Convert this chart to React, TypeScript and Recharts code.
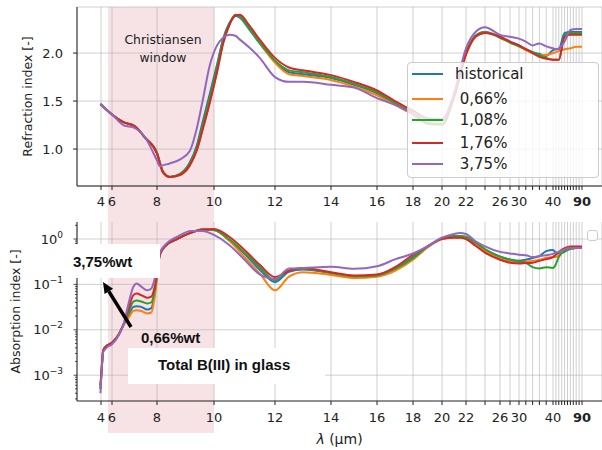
import React from "react";
import { LineChart, Line, XAxis, YAxis, CartesianGrid } from "recharts";

// wavelength (µm) -> position along the plot width
const AXIS_LAMBDA = [4, 6, 8, 10, 12, 14, 16, 18, 20, 22, 24, 26, 28, 30, 40, 90];
const AXIS_POS = [24, 35, 80, 137, 198, 254, 300, 336, 365, 389, 408, 423, 433, 442, 476, 505];
const U_MAX = 525;

const LABELED_TICKS = [4, 6, 8, 10, 12, 14, 16, 18, 20, 22, 26, 30, 40, 90];
const TICK_LAMBDA = [4, 6, 8, 10, 12, 14, 16, 18, 20, 22, 24, 26, 28, 30, 32, 34, 36, 38, 40,
  45, 50, 55, 60, 65, 70, 75, 80, 85, 90];

// refraction index
const LAMBDA_N = [3.9, 5, 6, 6.5, 7, 7.5, 8, 8.1, 8.2, 8.45, 8.8, 9.15, 9.4, 9.6, 9.85, 10.1, 10.3, 10.5, 10.7, 10.85,
  11.15, 11.5, 12, 12.5, 13, 14, 15, 16, 17, 18, 19, 20, 21, 22, 23, 24, 26, 28, 30, 32, 34, 36, 38, 40, 45, 50, 60, 70, 80, 90];
const N_HIST = [1.47, 1.41, 1.36, 1.28, 1.24, 1.11, 0.96, 0.86, 0.77, 0.71, 0.74, 0.86, 1.04, 1.28, 1.57, 1.88, 2.15, 2.31, 2.39, 2.37,
  2.25, 2.10, 1.91, 1.80, 1.78, 1.74, 1.67, 1.58, 1.47, 1.37, 1.27, 1.26, 1.55, 2.00, 2.18, 2.22, 2.17, 2.12, 2.08, 2.04, 2.01, 1.99, 1.97, 2.03, 2.04, 2.04, 2.21, 2.22, 2.22, 2.22];
const N_066 = [1.47, 1.41, 1.36, 1.28, 1.24, 1.11, 0.96, 0.86, 0.77, 0.71, 0.73, 0.83, 0.99, 1.21, 1.49, 1.81, 2.11, 2.29, 2.40, 2.39,
  2.27, 2.11, 1.90, 1.78, 1.76, 1.72, 1.65, 1.56, 1.46, 1.36, 1.26, 1.25, 1.53, 1.98, 2.17, 2.22, 2.16, 2.11, 2.07, 2.03, 2.00, 1.98, 1.98, 2.00, 2.01, 2.02, 2.04, 2.05, 2.065, 2.065];
const N_108 = [1.47, 1.41, 1.36, 1.28, 1.24, 1.11, 0.96, 0.86, 0.77, 0.71, 0.74, 0.85, 1.02, 1.25, 1.53, 1.85, 2.14, 2.30, 2.40, 2.38,
  2.26, 2.11, 1.92, 1.82, 1.80, 1.75, 1.68, 1.59, 1.48, 1.37, 1.27, 1.26, 1.55, 2.00, 2.18, 2.22, 2.16, 2.11, 2.07, 2.04, 2.01, 1.98, 1.95, 1.93, 1.93, 1.93, 2.19, 2.21, 2.21, 2.21];
const N_176 = [1.47, 1.41, 1.36, 1.28, 1.24, 1.11, 0.95, 0.85, 0.76, 0.71, 0.73, 0.83, 0.99, 1.20, 1.48, 1.80, 2.10, 2.29, 2.39, 2.40,
  2.29, 2.14, 1.95, 1.85, 1.82, 1.77, 1.70, 1.61, 1.50, 1.40, 1.32, 1.30, 1.55, 1.99, 2.17, 2.21, 2.17, 2.12, 2.08, 2.04, 2.00, 1.96, 1.94, 1.93, 1.93, 1.93, 2.17, 2.19, 2.19, 2.19];
const N_375 = [1.47, 1.41, 1.36, 1.25, 1.22, 1.11, 0.88, 0.82, 0.83, 0.85, 0.89, 0.98, 1.22, 1.50, 1.87, 2.08, 2.16, 2.19, 2.18, 2.14,
  2.06, 1.95, 1.75, 1.70, 1.70, 1.67, 1.64, 1.53, 1.46, 1.37, 1.32, 1.31, 1.58, 2.05, 2.22, 2.27, 2.19, 2.17, 2.15, 2.12, 2.08, 2.10, 2.07, 2.05, 2.04, 2.05, 2.12, 2.24, 2.25, 2.25];

// absorption index
const LAMBDA_K = [3.9, 4.1, 4.4, 5, 6, 6.3, 6.5, 6.7, 6.95, 7.1, 7.3, 7.56, 7.75, 7.9, 8.1, 8.3, 8.7, 9.2, 9.6, 10,
  10.5, 11, 11.5, 12, 12.5, 13, 14, 15, 16, 17, 18, 19, 20, 21, 21.5, 22, 23, 24, 26, 28, 30, 32, 34, 36, 38, 40, 45, 50, 60, 70, 80, 90];
const K_HIST = [5.0e-4, 1.26e-3, 3.5e-3, 4.4e-3, 5.2e-3, 7.9e-3, 0.0126, 0.0186, 0.032, 0.033, 0.032, 0.028, 0.030, 0.063, 0.45, 0.71, 1.0, 1.38, 1.62, 1.58,
  0.95, 0.47, 0.21, 0.112, 0.19, 0.214, 0.178, 0.151, 0.162, 0.224, 0.40, 0.68, 1.02, 1.15, 1.15, 1.10, 0.81, 0.575, 0.41, 0.355, 0.33, 0.35, 0.38, 0.42, 0.54, 0.575, 0.50, 0.48, 0.52, 0.62, 0.65, 0.65];
const K_066 = [6.0e-4, 1.26e-3, 3.5e-3, 4.4e-3, 5.2e-3, 7.9e-3, 0.0126, 0.017, 0.026, 0.027, 0.026, 0.023, 0.024, 0.054, 0.45, 0.71, 1.0, 1.38, 1.62, 1.58,
  0.91, 0.40, 0.174, 0.074, 0.148, 0.186, 0.162, 0.138, 0.148, 0.20, 0.35, 0.65, 1.0, 1.10, 1.10, 1.05, 0.76, 0.54, 0.37, 0.32, 0.30, 0.32, 0.33, 0.35, 0.38, 0.40, 0.40, 0.44, 0.55, 0.63, 0.65, 0.65];
const K_108 = [5.0e-4, 1.26e-3, 3.5e-3, 4.4e-3, 5.2e-3, 7.9e-3, 0.0126, 0.021, 0.042, 0.044, 0.042, 0.038, 0.040, 0.074, 0.45, 0.71, 1.0, 1.38, 1.62, 1.58,
  0.98, 0.50, 0.24, 0.123, 0.20, 0.22, 0.178, 0.151, 0.158, 0.22, 0.38, 0.68, 1.05, 1.17, 1.17, 1.12, 0.83, 0.60, 0.41, 0.35, 0.32, 0.30, 0.24, 0.224, 0.24, 0.23, 0.28, 0.40, 0.54, 0.60, 0.63, 0.65];
const K_176 = [6.0e-4, 1.26e-3, 3.5e-3, 4.4e-3, 5.2e-3, 7.9e-3, 0.0126, 0.025, 0.058, 0.063, 0.058, 0.051, 0.054, 0.089, 0.45, 0.71, 1.0, 1.38, 1.62, 1.66,
  1.12, 0.575, 0.27, 0.145, 0.20, 0.23, 0.186, 0.158, 0.166, 0.24, 0.45, 0.69, 1.0, 1.07, 1.07, 1.0, 0.71, 0.50, 0.35, 0.30, 0.29, 0.295, 0.30, 0.33, 0.36, 0.40, 0.45, 0.52, 0.63, 0.68, 0.68, 0.68];
const K_375 = [4.0e-4, 1.12e-3, 3.2e-3, 4.0e-3, 4.8e-3, 7.6e-3, 0.0126, 0.032, 0.089, 0.105, 0.089, 0.074, 0.081, 0.135, 0.50, 0.76, 1.12, 1.51, 1.51, 1.23,
  0.74, 0.35, 0.166, 0.132, 0.224, 0.23, 0.245, 0.22, 0.25, 0.355, 0.48, 0.68, 1.07, 1.29, 1.35, 1.29, 0.89, 0.69, 0.52, 0.48, 0.45, 0.44, 0.40, 0.42, 0.44, 0.47, 0.50, 0.52, 0.59, 0.63, 0.63, 0.63];

const K_MAJOR = [1e-3, 1e-2, 1e-1, 1];
const K_MINOR = [3e-4, 4e-4, 5e-4, 6e-4, 7e-4, 8e-4, 9e-4, 2e-3, 3e-3, 4e-3, 5e-3, 6e-3, 7e-3, 8e-3, 9e-3,
  2e-2, 3e-2, 4e-2, 5e-2, 6e-2, 7e-2, 8e-2, 9e-2, 0.2, 0.3, 0.4, 0.5, 0.6, 0.7, 0.8, 0.9, 2];

const SERIES = [
  { key: "hist", label: "historical", color: "#1f77b4", n: N_HIST, k: K_HIST },
  { key: "p066", label: " 0,66%", color: "#ff7f0e", n: N_066, k: K_066 },
  { key: "p108", label: " 1,08%", color: "#2ca02c", n: N_108, k: K_108 },
  { key: "p176", label: " 1,76%", color: "#d62728", n: N_176, k: K_176 },
  { key: "p375", label: " 3,75%", color: "#9467bd", n: N_375, k: K_375 },
];

const warp = (l: number) => {
  if (l <= AXIS_LAMBDA[0]) {
    const s = (AXIS_POS[1] - AXIS_POS[0]) / (AXIS_LAMBDA[1] - AXIS_LAMBDA[0]);
    return AXIS_POS[0] - (AXIS_LAMBDA[0] - l) * s;
  }
  for (let i = 1; i < AXIS_LAMBDA.length; i++) {
    if (l <= AXIS_LAMBDA[i]) {
      const t = (l - AXIS_LAMBDA[i - 1]) / (AXIS_LAMBDA[i] - AXIS_LAMBDA[i - 1]);
      return AXIS_POS[i - 1] + t * (AXIS_POS[i] - AXIS_POS[i - 1]);
    }
  }
  return AXIS_POS[AXIS_POS.length - 1];
};

const TICK_U = TICK_LAMBDA.map(warp);

const nData = LAMBDA_N.map((l, i) => {
  const row: any = { u: warp(l) };
  SERIES.forEach((s) => (row[s.key] = s.n[i]));
  return row;
});
const kData = LAMBDA_K.map((l, i) => {
  const row: any = { u: warp(l) };
  SERIES.forEach((s) => (row[s.key] = s.k[i]));
  return row;
});

const FONT = "DejaVu Sans, sans-serif";
const INK = "#222";
const PLOT_LEFT = 77;

const XTick = ({ x, y, payload }: any) => {
  const lam = TICK_LAMBDA.find((t) => Math.abs(warp(t) - payload.value) < 1e-6);
  if (lam === undefined || !LABELED_TICKS.includes(lam)) return null;
  return (
    <text x={x} y={y} dy="0.71em" textAnchor="middle" fontSize={13} fill={INK}
      fontFamily={FONT} fontWeight={lam === 90 ? "bold" : "normal"}>
      {lam}
    </text>
  );
};

const NTick = ({ x, y, payload }: any) => (
  <text x={x} y={y} dy="0.36em" textAnchor="end" fontSize={13} fill={INK} fontFamily={FONT}>
    {Number(payload.value).toFixed(1)}
  </text>
);

const KTick = ({ x, y, payload }: any) => {
  const v = payload.value;
  const major = K_MAJOR.some((m) => Math.abs(m - v) / m < 1e-6);
  if (!major) return <line x1={x - 2} x2={x} y1={y} y2={y} stroke={INK} strokeWidth={0.8} />;
  const exp = Math.round(Math.log10(v));
  return (
    <g>
      <line x1={x - 3.5} x2={x} y1={y} y2={y} stroke={INK} strokeWidth={0.8} />
      <text x={x - 14} y={y} dy="0.36em" textAnchor="end" fontSize={13} fill={INK} fontFamily={FONT}>
        10
        <tspan fontSize={9} dy={-6}>{exp < 0 ? `\u2212${-exp}` : `${exp}`}</tspan>
      </text>
    </g>
  );
};

const YLabel = ({ viewBox, value, dx }: any) => {
  const cx = viewBox.x + dx;
  const cy = viewBox.y + viewBox.height / 2;
  return (
    <text x={cx} y={cy} transform={`rotate(-90 ${cx} ${cy})`} textAnchor="middle" dy="0.36em"
      fontSize={12.5} fill={INK} fontFamily={FONT}>
      {value}
    </text>
  );
};

const LambdaLabel = ({ viewBox }: any) => (
  <text x={viewBox.x + viewBox.width / 2} y={viewBox.y + 43} textAnchor="middle" fontSize={14}
    fill={INK} fontFamily={FONT}>
    <tspan fontStyle="italic">λ</tspan> (µm)
  </text>
);

const Arrow = ({ x1, y1, x2, y2 }: { x1: number; y1: number; x2: number; y2: number }) => {
  const dx = x2 - x1, dy = y2 - y1;
  const len = Math.hypot(dx, dy);
  const ux = dx / len, uy = dy / len;
  const hl = 11, hw = 5;
  const bx = x2 - ux * hl, by = y2 - uy * hl;
  return (
    <g>
      <line x1={x1} y1={y1} x2={bx} y2={by} stroke="#000" strokeWidth={3.5} />
      <polygon points={`${x2},${y2} ${bx - uy * hw},${by + ux * hw} ${bx + uy * hw},${by - ux * hw}`} fill="#000" />
    </g>
  );
};

const axisStroke = { stroke: INK, strokeWidth: 1 };
const gridStroke = "#b0b0b0";

export default function App() {
  const bandLeft = PLOT_LEFT + warp(5.3);
  const bandRight = PLOT_LEFT + warp(10);
  const boldText: React.CSSProperties = {
    position: "absolute", fontFamily: "Liberation Sans, Arial, sans-serif", fontWeight: "bold",
    fontSize: 15, color: "#111", whiteSpace: "pre", lineHeight: "18px",
  };

  return (
    <div style={{ position: "absolute", left: 0, top: 0, width: 602, height: 450, background: "#fff", overflow: "hidden" }}>
      {/* Christiansen window band */}
      <div style={{ position: "absolute", left: bandLeft, width: bandRight - bandLeft, top: 7, height: 426, background: "#f7e2e5", zIndex: 0 }} />

      <div style={{ position: "absolute", left: 0, top: 0, zIndex: 1 }}>
        <LineChart width={602} height={215} data={nData} margin={{ top: 7, right: 0, bottom: 0, left: 0 }}>
          <CartesianGrid stroke={gridStroke} strokeOpacity={0.6} />
          <XAxis type="number" dataKey="u" domain={[0, U_MAX]} ticks={TICK_U} interval={0} allowDataOverflow
            tick={<XTick />} tickSize={4} tickMargin={7} tickLine={axisStroke} axisLine={axisStroke} height={29} />
          <XAxis xAxisId="top" orientation="top" type="number" dataKey="u" domain={[0, U_MAX]} allowDataOverflow
            tick={false} tickLine={false} axisLine={axisStroke} height={0} />
          <YAxis type="number" domain={[0.615, 2.48]} ticks={[1, 1.5, 2]} allowDataOverflow width={77}
            tick={<NTick />} tickSize={4} tickMargin={10} tickLine={axisStroke} axisLine={axisStroke}
            label={<YLabel value="Refraction index [-]" dx={27} />} />
          {SERIES.map((s) => (
            <Line key={s.key} type="monotone" dataKey={s.key} stroke={s.color} strokeWidth={2}
              dot={false} isAnimationActive={false} />
          ))}
        </LineChart>
      </div>

      <div style={{ position: "absolute", left: 0, top: 215, zIndex: 1 }}>
        <LineChart width={602} height={235} data={kData} margin={{ top: 7, right: 0, bottom: 0, left: 0 }}>
          <CartesianGrid stroke={gridStroke} strokeOpacity={0.6} horizontalValues={K_MAJOR} />
          <XAxis type="number" dataKey="u" domain={[0, U_MAX]} ticks={TICK_U} interval={0} allowDataOverflow
            tick={<XTick />} tickSize={4} tickMargin={8} tickLine={axisStroke} axisLine={axisStroke} height={49}
            label={<LambdaLabel />} />
          <XAxis xAxisId="top" orientation="top" type="number" dataKey="u" domain={[0, U_MAX]} allowDataOverflow
            tick={false} tickLine={false} axisLine={axisStroke} height={0} />
          <YAxis type="number" scale="log" domain={[2.7e-4, 2.37]} ticks={[...K_MAJOR, ...K_MINOR]} interval={0}
            allowDataOverflow width={77} tick={<KTick />} tickSize={0} tickMargin={0} tickLine={false}
            axisLine={axisStroke} label={<YLabel value="Absorption index [-]" dx={15} />} />
          {SERIES.map((s) => (
            <Line key={s.key} type="monotone" dataKey={s.key} stroke={s.color} strokeWidth={2}
              dot={false} isAnimationActive={false} />
          ))}
        </LineChart>
      </div>

      {/* annotations */}
      <div style={{ position: "absolute", left: 113, top: 31, width: 100, textAlign: "center", fontFamily: FONT,
        fontSize: 12.4, lineHeight: "17.6px", color: INK, zIndex: 2 }}>
        Christiansen<br />window
      </div>

      <div style={{ position: "absolute", left: 407, top: 62, width: 192, height: 116, boxSizing: "border-box",
        background: "rgba(255,255,255,0.8)", border: "1px solid #cccccc", borderRadius: 4, zIndex: 2 }}>
        {SERIES.map((s, i) => {
          const cy = [11, 36, 57, 80, 101][i];
          return (
            <div key={s.key}>
              <div style={{ position: "absolute", left: 4, top: cy - 1, width: 31, height: 2, background: s.color }} />
              <div style={{ position: "absolute", left: 47, top: cy - 10, height: 20, lineHeight: "20px", fontSize: 15,
                fontFamily: FONT, color: INK, whiteSpace: "pre" }}>{s.label}</div>
            </div>
          );
        })}
      </div>

      <div style={{ position: "absolute", left: 587, top: 230, width: 11, height: 11, boxSizing: "border-box",
        background: "rgba(255,255,255,0.8)", border: "1px solid #cccccc", borderRadius: 3, zIndex: 2 }} />

      <div style={{ position: "absolute", left: 68, top: 244, width: 92, height: 34, background: "#fff", zIndex: 2 }} />
      <div style={{ ...boldText, left: 73, top: 253, zIndex: 3 }}>3,75%wt</div>
      <div style={{ ...boldText, left: 141, top: 329, zIndex: 3 }}>0,66%wt</div>
      <div style={{ position: "absolute", left: 128, top: 348, width: 197, height: 36, background: "#fff", zIndex: 2 }} />
      <div style={{ ...boldText, left: 158, top: 356, zIndex: 3 }}>Total B(III) in glass</div>

      <svg width={602} height={450} style={{ position: "absolute", left: 0, top: 0, zIndex: 3, pointerEvents: "none" }}>
        <Arrow x1={131} y1={327} x2={103} y2={282} />
      </svg>
    </div>
  );
}
